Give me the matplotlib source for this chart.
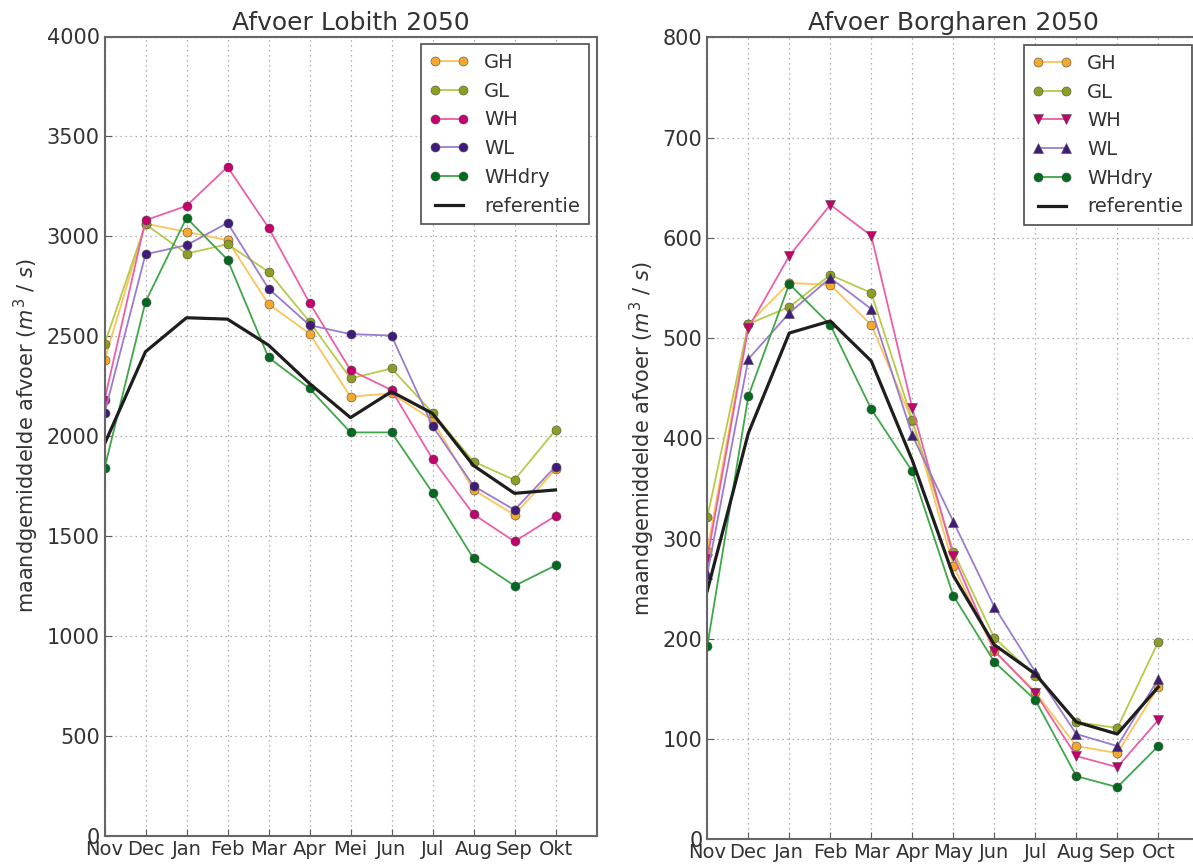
import numpy as np
import matplotlib
matplotlib.use('Agg')
import matplotlib.pyplot as plt

# maanden
maanden_lobith = ['Nov', 'Dec', 'Jan', 'Feb', 'Mar', 'Apr', 'Mei', 'Jun', 'Jul', 'Aug', 'Sep', 'Okt']
maanden_borgharen = ['Nov', 'Dec', 'Jan', 'Feb', 'Mar', 'Apr', 'May', 'Jun', 'Jul', 'Aug', 'Sep', 'Oct']

# Lobith (m3/s)
lob_GH = [2380, 3063, 3022, 2980, 2660, 2513, 2197, 2213, 2080, 1730, 1605, 1833]
lob_GL = [2460, 3060, 2913, 2960, 2822, 2572, 2288, 2338, 2117, 1872, 1780, 2030]
lob_WH = [2180, 3080, 3152, 3347, 3043, 2667, 2330, 2230, 1885, 1608, 1472, 1600]
lob_WL = [2113, 2910, 2955, 3067, 2738, 2555, 2510, 2503, 2050, 1750, 1630, 1847]
lob_WHdry = [1838, 2672, 3092, 2883, 2393, 2238, 2018, 2018, 1717, 1387, 1250, 1352]
lob_ref = [1960, 2422, 2592, 2585, 2455, 2263, 2092, 2222, 2113, 1852, 1713, 1730]

# Borgharen (m3/s)
bor_GH = [288, 514, 555, 553, 513, 417, 273, 188, 147, 93, 86, 152]
bor_GL = [321, 514, 531, 563, 545, 418, 287, 201, 163, 117, 111, 197]
bor_WH = [280, 510, 582, 633, 602, 430, 283, 188, 146, 83, 72, 119]
bor_WL = [265, 479, 525, 560, 529, 403, 317, 232, 167, 105, 93, 160]
bor_WHdry = [193, 442, 554, 513, 429, 367, 243, 177, 139, 63, 52, 93]
bor_ref = [248, 405, 505, 517, 477, 378, 263, 194, 165, 117, 105, 152]

scenarios = ['GH', 'GL', 'WH', 'WL', 'WHdry']
line_kleur = ['#fcc45a', '#b9c94a', '#ec5fa6', '#9b7ccc', '#3fa64a']
marker_kleur = ['#f6a82a', '#8e9e22', '#c4006e', '#3f1c7a', '#006b1e']

plt.rcParams['font.family'] = 'DejaVu Sans'
plt.rcParams['text.color'] = '0.2'
plt.rcParams['axes.labelcolor'] = '0.2'
plt.rcParams['xtick.color'] = '0.2'
plt.rcParams['ytick.color'] = '0.2'
plt.rcParams['mathtext.fontset'] = 'dejavusans'


def teken(ax, maanden, reeksen, ref, markers, titel, ymax, ystap):
    x = np.arange(len(maanden))
    for naam, y, lk, mk, m in zip(scenarios, reeksen, line_kleur, marker_kleur, markers):
        ax.plot(x, y, color=lk, lw=1.3, marker=m, markersize=6.5,
                markerfacecolor=mk, markeredgecolor='0.3', markeredgewidth=0.4,
                label=naam)
    ax.plot(x, ref, color='#1e1e1e', lw=2.3, label='referentie')
    ax.set_xlim(0, 12)
    ax.set_ylim(0, ymax)
    ax.set_xticks(x)
    ax.set_xticklabels(maanden, fontsize=14)
    ax.set_yticks(np.arange(0, ymax + 1, ystap))
    ax.tick_params(axis='y', labelsize=15, direction='in', length=5, color='0.35')
    ax.tick_params(axis='x', direction='in', length=5, color='0.35', pad=3)
    ax.grid(True, linestyle=(0, (1, 3)), color='0.6', lw=0.9)
    for s in ax.spines.values():
        s.set_color('0.4')
        s.set_linewidth(1.5)
    ax.set_title(titel, fontsize=18, pad=5)
    ax.set_ylabel('maandgemiddelde afvoer ($m^3$ / $s$)', fontsize=15, labelpad=4)
    leg = ax.legend(loc='upper right', fontsize=14, numpoints=2, fancybox=False,
                    framealpha=1, edgecolor='0.3', handlelength=2.0,
                    handletextpad=0.8, labelspacing=0.5, borderpad=0.45,
                    borderaxespad=0.4)
    leg.get_frame().set_linewidth(1.2)


fig = plt.figure(figsize=(11.93, 8.65), dpi=100)
ax1 = fig.add_axes([104.5 / 1193, (865 - 835.5) / 865, 492 / 1193, 799 / 865])
ax2 = fig.add_axes([707.3 / 1193, (865 - 839.3) / 865, 492 / 1193, 802 / 865])

teken(ax1, maanden_lobith, [lob_GH, lob_GL, lob_WH, lob_WL, lob_WHdry], lob_ref,
      ['o', 'o', 'o', 'o', 'o'], 'Afvoer Lobith 2050', 4000, 500)
teken(ax2, maanden_borgharen, [bor_GH, bor_GL, bor_WH, bor_WL, bor_WHdry], bor_ref,
      ['o', 'o', 'v', '^', 'o'], 'Afvoer Borgharen 2050', 800, 100)

fig.savefig('out.png', dpi=100)
